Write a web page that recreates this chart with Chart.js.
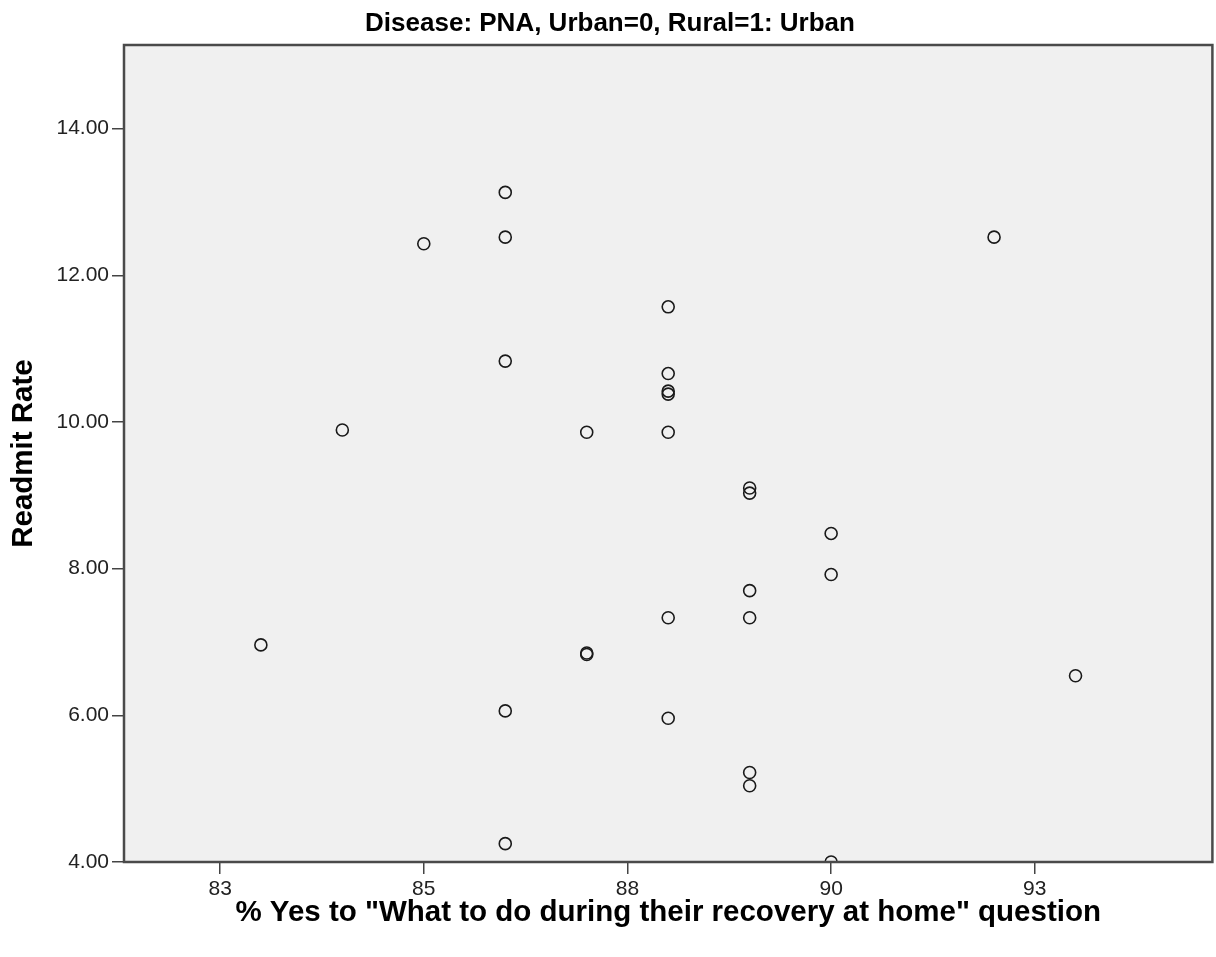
<!DOCTYPE html>
<html>
<head>
<meta charset="utf-8">
<script src="https://cdn.jsdelivr.net/npm/chart.js@4.4.1/dist/chart.umd.min.js"></script>
<style>
  html, body { margin: 0; padding: 0; background: #ffffff; overflow: hidden; }
  #wrap { width: 1216px; height: 957px; overflow: hidden; }
  #c { display: block; }
</style>
</head>
<body>
<div id="wrap"><canvas id="c" width="1220" height="957" style="width:1220px;height:957px"></canvas></div>
<script>
const chartTitle = 'Disease: PNA, Urban=0, Rural=1: Urban';
const xAxisTitle = '% Yes to "What to do during their recovery at home" question';
const yAxisTitle = 'Readmit Rate';

const xValues = [86, 86, 85, 92, 88, 86, 88, 88, 88, 84, 87, 88, 89, 89, 90, 90, 89, 88, 89, 83, 87, 87, 93, 86, 88, 89, 89, 86, 90];
const yValues = [13.13, 12.52, 12.43, 12.52, 11.57, 10.83, 10.66, 10.42, 10.38, 9.89, 9.86, 9.86, 9.10, 9.03, 8.48, 7.92, 7.70, 7.33, 7.33, 6.96, 6.85, 6.83, 6.54, 6.06, 5.96, 5.22, 5.04, 4.25, 4.00];

const xTicks = [82.5, 85, 87.5, 90, 92.5];
const xTickLabels = ['83', '85', '88', '90', '93'];
const yTicks = [4, 6, 8, 10, 12, 14];
const yTickLabels = ['4.00', '6.00', '8.00', '10.00', '12.00', '14.00'];

const points = xValues.map((x, i) => ({ x: x, y: yValues[i] }));

const plotBg = {
  id: 'plotBg',
  beforeDraw(chart) {
    const a = chart.chartArea, ctx = chart.ctx;
    ctx.save();
    ctx.fillStyle = '#F0F0F0';
    ctx.fillRect(a.left, a.top, a.right - a.left, a.bottom - a.top);
    ctx.restore();
  },
  afterDraw(chart) {
    const a = chart.chartArea, ctx = chart.ctx;
    ctx.save();
    ctx.strokeStyle = '#4a4a4a';
    ctx.lineWidth = 2.5;
    ctx.strokeRect(a.left, a.top, a.right - a.left, a.bottom - a.top);
    ctx.restore();
  }
};

new Chart(document.getElementById('c'), {
  type: 'scatter',
  data: {
    datasets: [{
      data: points,
      pointStyle: 'circle',
      pointRadius: 6,
      pointHoverRadius: 6,
      pointBorderWidth: 1.6,
      borderColor: '#1a1a1a',
      backgroundColor: 'rgba(0,0,0,0)',
      clip: 0
    }]
  },
  options: {
    responsive: false,
    animation: false,
    events: [],
    layout: { padding: { left: 0, right: 0, top: 0, bottom: 0 } },
    plugins: {
      legend: { display: false },
      tooltip: { enabled: false },
      title: {
        display: true,
        text: chartTitle,
        color: '#000',
        font: { family: "'Liberation Sans', Arial, sans-serif", size: 26, weight: 'bold', lineHeight: 1.2 },
        padding: { top: 8, bottom: 5.8 }
      }
    },
    scales: {
      x: {
        type: 'linear',
        min: 81.32,
        max: 94.68,
        afterFit(scale) { scale.height = 95; scale.paddingLeft = 0; scale.paddingRight = 0; },
        afterBuildTicks(scale) { scale.ticks = xTicks.map(v => ({ value: v })); },
        ticks: {
          color: '#222',
          font: { family: "'Liberation Sans', Arial, sans-serif", size: 21 },
          padding: 3,
          maxRotation: 0,
          autoSkip: false,
          callback: (v, i) => xTickLabels[i]
        },
        grid: { drawOnChartArea: false, drawTicks: true, tickLength: 12, color: '#444', lineWidth: 1.5 },
        border: { display: false },
        title: {
          display: true,
          text: xAxisTitle,
          color: '#000',
          font: { family: "'Liberation Sans', Arial, sans-serif", size: 29.5, weight: 'bold', lineHeight: 1.2 },
          padding: { top: 0, bottom: 26 }
        }
      },
      y: {
        type: 'linear',
        min: 4,
        max: 15.14,
        afterFit(scale) { scale.width = 124; scale.paddingTop = 0; scale.paddingBottom = 0; },
        afterBuildTicks(scale) { scale.ticks = yTicks.map(v => ({ value: v })); },
        ticks: {
          color: '#222',
          font: { family: "'Liberation Sans', Arial, sans-serif", size: 21 },
          padding: 3,
          autoSkip: false,
          callback: (v, i) => yTickLabels[i]
        },
        grid: { drawOnChartArea: false, drawTicks: true, tickLength: 12, color: '#444', lineWidth: 1.5 },
        border: { display: false },
        title: {
          display: true,
          text: yAxisTitle,
          color: '#000',
          font: { family: "'Liberation Sans', Arial, sans-serif", size: 29.5, weight: 'bold', lineHeight: 1.2 },
          padding: { top: 6, bottom: 0 }
        }
      }
    }
  },
  plugins: [plotBg]
});
</script>
</body>
</html>
